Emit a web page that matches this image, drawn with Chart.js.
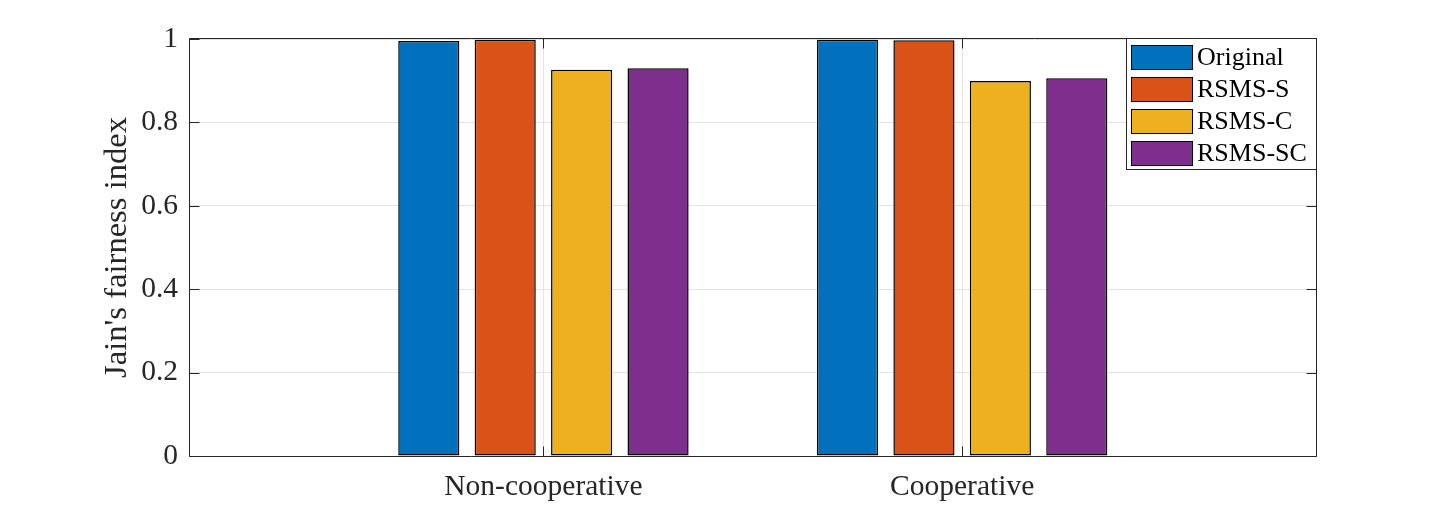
<!DOCTYPE html>
<html><head><meta charset="utf-8">
<script src="https://cdn.jsdelivr.net/npm/chart.js@4.4.0/dist/chart.umd.min.js"></script>
<style>html,body{margin:0;padding:0;background:#fff;overflow:hidden}</style>
</head><body>
<canvas id="c" width="1455" height="514" style="display:block;width:1455px;height:514px"></canvas>
<script>
const categories = ['Non-cooperative', 'Cooperative'];
const categoryPositions = [1, 2];
const seriesNames = ['Original', 'RSMS-S', 'RSMS-C', 'RSMS-SC'];
const original = [0.995, 0.998];
const rsmsS = [0.998, 0.997];
const rsmsC = [0.926, 0.899];
const rsmsSC = [0.930, 0.906];
const yTicks = [0, 0.2, 0.4, 0.6, 0.8, 1];
const yTickLabels = ['0', '0.2', '0.4', '0.6', '0.8', '1'];
const yTitle = "Jain's fairness index";

const colors = ['#0072BD', '#D95319', '#EDB120', '#7E2F8E'];
const seriesValues = [original, rsmsS, rsmsC, rsmsSC];
const TXT = '#262626';
const FONT = "'Liberation Serif', 'Times New Roman', serif";

const datasets = seriesNames.map((name, i) => ({
  label: name,
  data: categoryPositions.map((p, j) => ({ x: p, y: seriesValues[i][j] })),
  backgroundColor: colors[i],
  borderColor: '#000',
  borderWidth: 1.5,
  borderSkipped: false,
  categoryPercentage: 0.73,
  barPercentage: 0.8
}));

const frame = {
  id: 'frame',
  afterDatasetsDraw(chart) {
    const { ctx, chartArea: a, scales: { x, y } } = chart;
    ctx.save();
    ctx.strokeStyle = TXT;
    ctx.lineWidth = 1;
    const L = a.left - 0.5, R = a.right + 0.5, T = a.top - 0.5, B = a.bottom + 0.5;
    ctx.beginPath();
    ctx.rect(L, T, R - L, B - T);
    const tl = 10;
    yTicks.forEach(v => {
      const py = Math.round(y.getPixelForValue(v)) + 0.5;
      ctx.moveTo(L, py); ctx.lineTo(L + tl, py);
      ctx.moveTo(R, py); ctx.lineTo(R - tl, py);
    });
    categoryPositions.forEach(v => {
      const px = Math.round(x.getPixelForValue(v)) + 0.5;
      ctx.moveTo(px, B); ctx.lineTo(px, B - tl);
      ctx.moveTo(px, T); ctx.lineTo(px, T + tl);
    });
    ctx.stroke();

    // legend
    const lw = 190, lh = 131;
    const lx = a.right - lw, ly = a.top;
    ctx.fillStyle = '#fff';
    ctx.fillRect(lx, ly, lw, lh);
    ctx.strokeStyle = TXT;
    ctx.strokeRect(lx + 0.5, ly - 0.5, lw, lh);
    ctx.font = "26px " + FONT;
    ctx.textBaseline = 'middle';
    ctx.textAlign = 'left';
    chart.data.datasets.forEach((ds, i) => {
      const cy = ly + 18 + i * 32;
      ctx.fillStyle = ds.backgroundColor;
      ctx.fillRect(lx + 6, cy - 12, 60, 24);
      ctx.strokeStyle = '#000';
      ctx.strokeRect(lx + 5.5, cy - 11.5, 61, 24);
      ctx.fillStyle = '#000';
      ctx.fillText(ds.label, lx + 71, cy + 1);
    });
    ctx.restore();
  }
};

new Chart(document.getElementById('c'), {
  type: 'bar',
  data: { datasets },
  plugins: [frame],
  options: {
    responsive: false,
    animation: false,
    layout: { padding: { top: 39, right: 139, left: 0, bottom: 0 } },
    plugins: { legend: { display: false }, tooltip: { enabled: false } },
    scales: {
      x: {
        type: 'linear',
        min: 0.156,
        max: 2.845,
        offset: false,
        afterBuildTicks: s => { s.ticks = categoryPositions.map(v => ({ value: v })); },
        afterFit: s => { s.height = 58; },
        ticks: {
          autoSkip: false,
          maxRotation: 0,
          padding: 14,
          color: TXT,
          font: { family: FONT, size: 29.5 },
          callback: (v) => categories[categoryPositions.indexOf(v)]
        },
        grid: { offset: false, color: '#e3e3e3', lineWidth: 1, drawTicks: false },
        border: { display: false }
      },
      y: {
        min: 0,
        max: 1,
        afterBuildTicks: s => { s.ticks = yTicks.map(v => ({ value: v })); },
        afterFit: s => { s.width = 190; },
        ticks: {
          padding: 12,
          color: TXT,
          font: { family: FONT, size: 29.5 },
          callback: (v) => yTickLabels[yTicks.indexOf(v)]
        },
        grid: { color: '#e3e3e3', lineWidth: 1, drawTicks: false },
        border: { display: false },
        title: {
          display: true,
          text: yTitle,
          color: TXT,
          font: { family: FONT, size: 32.6 },
          padding: { top: 98, bottom: 0 }
        }
      }
    }
  }
});
</script>
</body></html>
